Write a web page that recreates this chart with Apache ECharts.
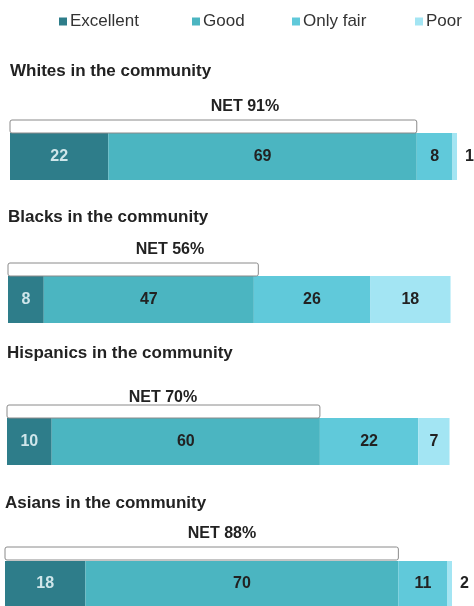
<!DOCTYPE html>
<html>
<head>
<meta charset="utf-8">
<script src="https://cdn.jsdelivr.net/npm/echarts@6/dist/echarts.min.js"></script>
<style>
html,body{margin:0;padding:0;background:#fff;}
#main{width:474px;height:606px;}
</style>
</head>
<body>
<div id="main"></div>
<script>
// data
var groups = ['Whites in the community', 'Blacks in the community', 'Hispanics in the community', 'Asians in the community'];
var ratings = ['Excellent', 'Good', 'Only fair', 'Poor'];
var excellent = [22, 8, 10, 18];
var good = [69, 47, 60, 70];
var onlyFair = [8, 26, 22, 11];
var poor = [1, 18, 7, 2];
var nets = [91, 56, 70, 88];

var colors = ['#2e7d8a', '#4bb5c1', '#60c9da', '#a3e5f3'];
var font = "'Liberation Sans', Arial, sans-serif";

// layout per group
var barTop = [133, 276, 418, 561];
var barLeft = [10, 8, 7, 5];
var titleY = [73, 219, 355, 505];
var netY = [107, 250, 398, 534];
var netX = [245, 170, 163, 222];
var legendX = [54, 187, 287, 410];

var myChart = echarts.init(document.getElementById('main'));

var grids = [], xAxes = [], yAxes = [], series = [], graphics = [], legends = [];

var valueSets = [excellent, good, onlyFair, poor];

groups.forEach(function (g, i) {
    grids.push({left: barLeft[i], top: barTop[i], width: 447, height: 47});
    xAxes.push({type: 'value', gridIndex: i, min: 0, max: 100, show: false});
    yAxes.push({type: 'category', gridIndex: i, data: [g], show: false});

    ratings.forEach(function (r, k) {
        var v = valueSets[k][i];
        var small = k === 3 && v < 4;
        series.push({
            name: r,
            type: 'bar',
            stack: 'g' + i,
            xAxisIndex: i,
            yAxisIndex: i,
            barWidth: 47,
            data: [v],
            itemStyle: {color: colors[k]},
            label: {
                show: true,
                position: small ? 'right' : 'inside',
                distance: 8,
                color: k === 0 ? '#cfe6ea' : '#222',
                fontFamily: font,
                fontWeight: 'bold',
                fontSize: 16
            },
            emphasis: {disabled: true},
            animation: false
        });
    });

    // NET bracket over excellent + good
    series.push({
        type: 'custom',
        xAxisIndex: i,
        yAxisIndex: i,
        data: [[nets[i], 0]],
        z: 10,
        renderItem: function (params, api) {
            var p0 = api.coord([0, 0]);
            var p1 = api.coord([api.value(0), 0]);
            var top = p0[1] - 47 / 2;
            return {
                type: 'rect',
                shape: {x: p0[0], y: top - 13, width: p1[0] - p0[0], height: 13, r: 2},
                style: {fill: '#fff', stroke: '#8a8a8a', lineWidth: 1}
            };
        },
        animation: false,
        silent: true
    });

    graphics.push({
        type: 'text', left: barLeft[i], top: titleY[i] - 10,
        style: {text: g, fill: '#222', font: 'bold 17px ' + font}
    });
    graphics.push({
        type: 'text', x: netX[i], y: netY[i],
        style: {text: 'NET ' + nets[i] + '%', fill: '#222', font: 'bold 16px ' + font,
            textAlign: 'center', textVerticalAlign: 'middle'}
    });
});

ratings.forEach(function (r, k) {
    legends.push({
        data: [r],
        left: legendX[k],
        top: 8,
        icon: 'rect',
        itemWidth: 8,
        itemHeight: 8,
        itemGap: 0,
        selectedMode: false,
        textStyle: {fontFamily: font, fontSize: 17, color: '#333', padding: [0, 0, 0, -2]}
    });
});

var option = {
    color: colors,
    legend: legends,
    grid: grids,
    xAxis: xAxes,
    yAxis: yAxes,
    series: series,
    graphic: graphics
};
myChart.setOption(option);
</script>
</body>
</html>
